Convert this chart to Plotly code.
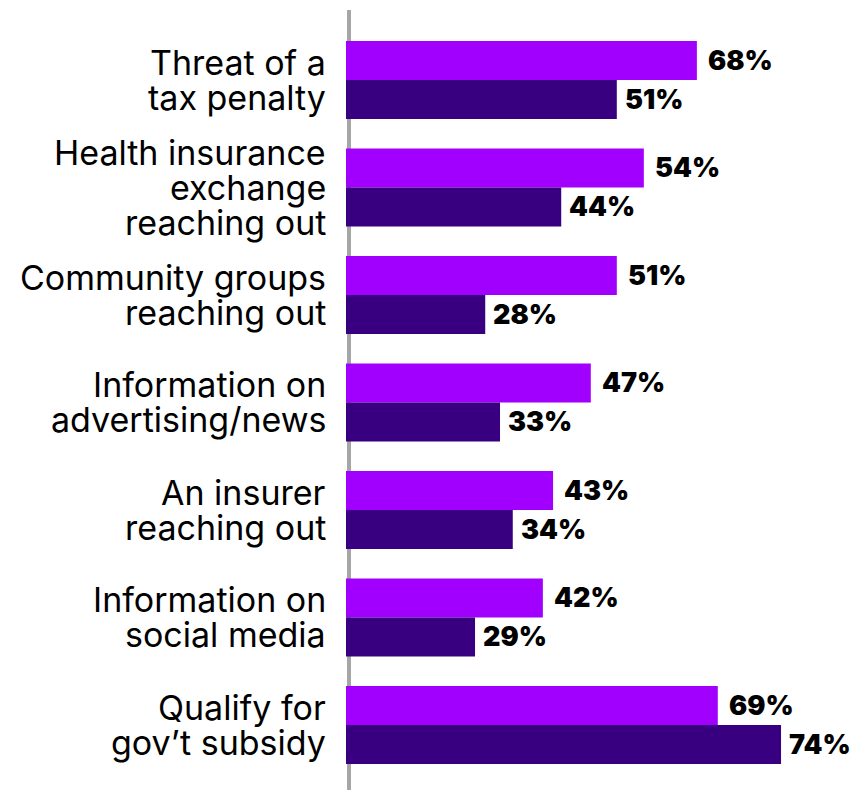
import plotly.graph_objects as go

# Categories (top to bottom), each split into display lines
categories = [
    ["Threat of a", "tax penalty"],
    ["Health insurance", "exchange", "reaching out"],
    ["Community groups", "reaching out"],
    ["Information on", "advertising/news"],
    ["An insurer", "reaching out"],
    ["Information on", "social media"],
    ["Qualify for", "gov\u2019t subsidy"],
]

# Bar lengths as drawn in the picture (percent scale, estimated)
light_values = [68.8, 58.4, 53.1, 48.0, 40.6, 38.6, 72.9]
dark_values = [53.1, 42.2, 27.3, 30.2, 32.7, 25.3, 85.3]

# Printed value labels
light_labels = ["68%", "54%", "51%", "47%", "43%", "42%", "69%"]
dark_labels = ["51%", "44%", "28%", "33%", "34%", "29%", "74%"]

LIGHT = "#A100FF"
DARK = "#380080"
BAR_W = 0.3628

idx = list(range(len(categories)))

fig = go.Figure()
fig.add_trace(go.Bar(
    orientation="h", x=light_values, y=idx, width=BAR_W, offset=-BAR_W,
    marker=dict(color=LIGHT, line=dict(width=0)), showlegend=False,
))
fig.add_trace(go.Bar(
    orientation="h", x=dark_values, y=idx, width=BAR_W, offset=0,
    marker=dict(color=DARK, line=dict(width=0)), showlegend=False,
))

annotations = []
label_font = dict(family="Inter, Roboto, sans-serif", size=27, color="#000000", weight=900)
for i in idx:
    annotations.append(dict(
        x=light_values[i], y=i - BAR_W / 2, xref="x", yref="y", text=light_labels[i],
        showarrow=False, xanchor="left", yanchor="middle", xshift=9, font=label_font,
    ))
    annotations.append(dict(
        x=dark_values[i], y=i + BAR_W / 2, xref="x", yref="y", text=dark_labels[i],
        showarrow=False, xanchor="left", yanchor="middle", xshift=6, font=label_font,
    ))

cat_font = dict(family="Inter, Roboto, sans-serif", size=34, color="#000000")
LINE_H = 35
for i, lines in enumerate(categories):
    n = len(lines)
    for k, line in enumerate(lines):
        annotations.append(dict(
            x=0, y=i, xref="paper", yref="y", text=line, showarrow=False,
            xanchor="right", yanchor="middle", xshift=-18,
            yshift=-(k - (n - 1) / 2) * LINE_H, font=cat_font,
        ))

PLOT_W = 852 - 346
fig.update_layout(
    width=852, height=790,
    margin=dict(l=346, r=0, t=10, b=0),
    paper_bgcolor="white", plot_bgcolor="white",
    barmode="overlay",
    xaxis=dict(range=[0, PLOT_W / 5.1], visible=False, fixedrange=True),
    yaxis=dict(range=[6.605, -0.651], visible=False, fixedrange=True),
    annotations=annotations,
    shapes=[dict(
        type="line", xref="paper", yref="paper", x0=3 / PLOT_W, x1=3 / PLOT_W,
        y0=0, y1=1, line=dict(color="#A6A6A6", width=4), layer="below",
    )],
)

fig.write_html("out.html")
